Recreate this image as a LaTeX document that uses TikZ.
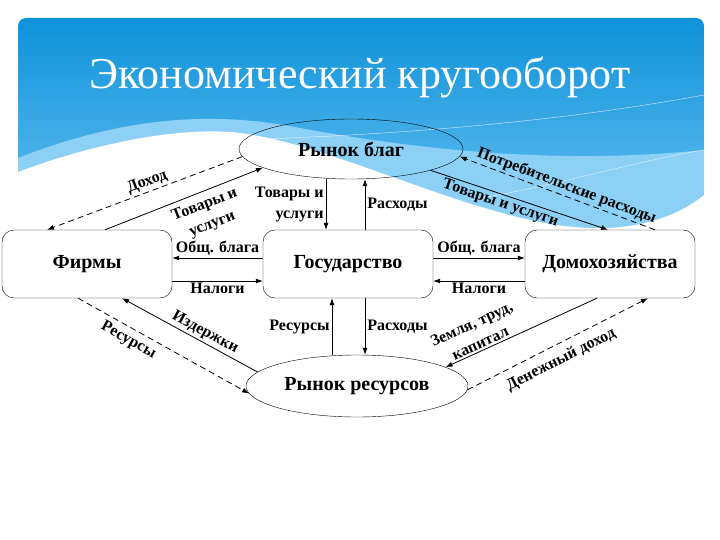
\documentclass[tikz,border=0pt]{standalone}
\usepackage{fontspec}
\setmainfont{Liberation Serif}
\usepackage{tikz}
\usetikzlibrary{arrows.meta, shapes.geometric, positioning}
\definecolor{skytop}{RGB}{14,146,218}
\definecolor{skybot}{RGB}{110,196,242}
\definecolor{skylight}{RGB}{140,208,245}
\tikzstyle{market} = [draw, ellipse, minimum width=224pt, minimum height=60pt, inner sep=0pt, font=\fontsize{20}{22}\selectfont\bfseries]
\tikzstyle{agent} = [draw, rectangle, rounded corners=12pt, minimum width=170pt, minimum height=68pt, fill=white, font=\fontsize{20}{22}\selectfont\bfseries]
\tikzstyle{arrow} = [line width=0.8pt, -{Latex[length=7pt,width=5pt]}]
\tikzstyle{dasharrow} = [arrow, dash pattern=on 6pt off 4pt]
\tikzstyle{lbl} = [inner sep=2pt, font=\fontsize{16}{21}\selectfont\bfseries]

\begin{document}
\begin{tikzpicture}[x=1pt, y=-1pt]
    \useasboundingbox (0,0) rectangle (720,540);
    % slide background
    \begin{scope}
        \clip [rounded corners=8pt] (18,18) rectangle (704,530);
        \shade [top color=skytop, bottom color=skybot] (18,18) rectangle (704,245);
        \fill [skylight] (18,158) .. controls (120,118) and (210,110) .. (300,128) .. controls (420,150) and (560,165) .. (704,150) -- (704,245) -- (18,245) -- cycle;
        \fill [white] (18,172) .. controls (90,145) and (170,128) .. (230,132) .. controls (330,140) and (480,225) .. (590,228) .. controls (640,230) and (680,215) .. (704,195) -- (704,530) -- (18,530) -- cycle;
        \draw [white, opacity=0.8, thin] (240,140) .. controls (380,135) and (540,125) .. (704,95);
        \draw [white, opacity=0.8, thin] (470,200) .. controls (560,185) and (640,160) .. (704,150);
    \end{scope}
    \node (title) [text=white, font=\fontsize{44}{48}\selectfont] at (360,78) {Экономический кругооборот};

    \node (goods) [market] at (351,149) {Рынок благ};
    \node (firms) [agent] at (87,264) {Фирмы};
    \node (state) [agent] at (348,264) {Государство};
    \node (house) [agent] at (610,264) {Домохозяйства};
    \node (res) [market, minimum width=222pt, minimum height=62pt] at (357,386) {Рынок ресурсов};

    % upper market
    \draw [dasharrow] (goods.184) -- ([xshift=-40pt]firms.north) node[lbl, pos=0.47, sloped, above] {Доход};
    \draw [arrow] ([xshift=18pt]firms.north) -- (goods.192) node[lbl, pos=0.6, sloped, below=4pt, align=center] {Товары и\\услуги};
    \draw [arrow] ([xshift=-22pt]state.north |- goods.south) -- ([xshift=-22pt]state.north) node[lbl, midway, left, align=right] {Товары и\\услуги};
    \draw [arrow] ([xshift=17pt]state.north) -- ([xshift=17pt]state.north |- goods.south) node[lbl, midway, right] {Расходы};
    \draw [arrow] (goods.345) -- ([xshift=-2pt]house.north) node[lbl, pos=0.41, sloped, below] {Товары и услуги};
    \draw [dasharrow] ([xshift=45pt]house.north) -- (goods.356) node[lbl, pos=0.47, sloped, above] {Потребительские расходы};

    % middle row
    \draw [arrow] ([yshift=6pt]state.west) -- ([yshift=6pt]firms.east) node[lbl, midway, above] {Общ. блага};
    \draw [arrow] ([yshift=-17pt]firms.east) -- ([yshift=-17pt]state.west) node[lbl, midway, below] {Налоги};
    \draw [arrow] ([yshift=6pt]state.east) -- ([yshift=6pt]house.west) node[lbl, midway, above] {Общ. блага};
    \draw [arrow] ([yshift=-17pt]house.west) -- ([yshift=-17pt]state.east) node[lbl, midway, below] {Налоги};

    % lower market
    \draw [arrow] (res.172) -- ([xshift=35pt]firms.south) node[lbl, pos=0.42, sloped, above] {Издержки};
    \draw [dasharrow] ([xshift=-9pt]firms.south) -- (res.184) node[lbl, pos=0.33, sloped, below=3pt] {Ресурсы};
    \draw [arrow] ([xshift=-16pt]state.south |- res.north) -- ([xshift=-16pt]state.south) node[lbl, midway, left] {Ресурсы};
    \draw [arrow] ([xshift=17pt]state.south) -- ([xshift=17pt]state.south |- res.north) node[lbl, midway, right] {Расходы};
    \draw [arrow] ([xshift=-13pt]house.south) -- (res.12) node[lbl, pos=0.75, sloped, above, align=center] {Земля, труд,\\капитал};
    \draw [dasharrow] (res.358) -- ([xshift=38pt]house.south) node[lbl, pos=0.48, sloped, below=6pt] {Денежный доход};
\end{tikzpicture}
\end{document}
